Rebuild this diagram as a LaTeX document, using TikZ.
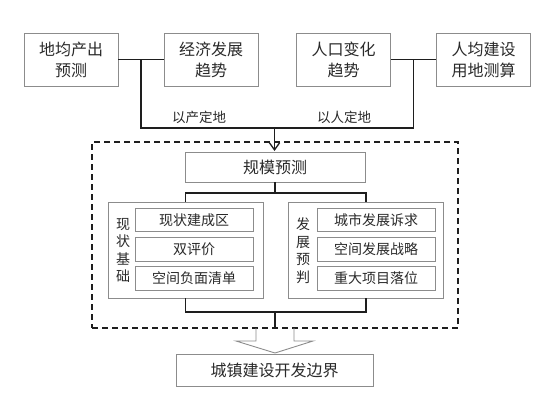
\documentclass[tikz,border=0pt]{standalone}
\usepackage{fontspec}
\newfontfamily\cjk{Noto Sans CJK SC}
\usetikzlibrary{arrows.meta,calc}
\definecolor{txt}{HTML}{2A2A2A}
\definecolor{bord}{HTML}{8C8C8C}
\definecolor{conn}{HTML}{1E1E1E}
\tikzset{
  box/.style={draw=bord, line width=0.9pt, fill=white, text=txt, inner sep=0pt, align=center},
  topbox/.style={box, minimum width=94pt, minimum height=53pt, font=\cjk\fontsize{16}{21}\selectfont},
  midbox/.style={box, minimum width=180pt, minimum height=30pt, font=\cjk\fontsize{16}{20}\selectfont},
  grpbox/.style={box, minimum width=155pt, minimum height=96pt},
  subbox/.style={box, minimum width=118pt, minimum height=23.5pt, font=\cjk\fontsize{14}{17}\selectfont},
  vtext/.style={text=txt, align=center, inner sep=0pt, font=\cjk\fontsize{14}{17.6}\selectfont},
  lbl/.style={text=txt, inner sep=0pt, font=\cjk\fontsize{13.5}{16}\selectfont},
  conline/.style={draw=conn, line width=1.5pt},
  dashbox/.style={draw=conn, line width=1.5pt, dash pattern=on 6pt off 4pt},
}
\begin{document}
\begin{tikzpicture}[x=1pt,y=-1pt]
\useasboundingbox (0,0) rectangle (556,412);
% dashed frame
\node[dashbox, minimum width=366pt, minimum height=186pt, inner sep=0pt] (frame) at (275,235) {};
% top boxes
\node[topbox] (b1) at (71,59.5) {地均产出\\预测};
\node[topbox] (b2) at (211,59.5) {经济发展\\趋势};
\node[topbox] (b3) at (343.5,59.5) {人口变化\\趋势};
\node[topbox] (b4) at (483.5,59.5) {人均建设\\用地测算};
\coordinate (ml) at ($(b1.east)!0.5!(b2.west)$);
\coordinate (mr) at ($(b3.east)!0.5!(b4.west)$);
\coordinate (hj) at (274.5,128);
\coordinate (at) at (274.5,151);
\draw[conline] (b1.east) -- (b2.west);
\draw[conline] (b3.east) -- (b4.west);
\draw[conline] (ml) -- (ml |- hj) -- (mr |- hj) -- (mr);
\draw[conline, -{Straight Barb[length=7pt,width=10pt,line width=1.3pt]}] (hj) -- (at);
\node[lbl] (l1) at (199,117) {以产定地};
\node[lbl] (l2) at (344,117) {以人定地};
% scale prediction
\node[midbox] (gm) at (275,167) {规模预测};
\node[grpbox] (gL) at (185.5,250) {};
\node[grpbox] (gR) at (366,250) {};
\coordinate (j2) at (275,193);
\draw[conline] (gm.south) -- (j2);
\draw[conline] (gL.north) -- (gL.north |- j2) -- (gR.north |- j2) -- (gR.north);
% left group
\node[vtext] (vL) at (123,250.5) {现\\状\\基\\础};
\node[subbox] (s1) at (194,220) {现状建成区};
\node[subbox] (s2) at (194,249.5) {双评价};
\node[subbox] (s3) at (194,278.5) {空间负面清单};
% right group
\node[vtext] (vR) at (303,250.5) {发\\展\\预\\判};
\node[subbox] (r1) at (376,220) {城市发展诉求};
\node[subbox] (r2) at (376,249.5) {空间发展战略};
\node[subbox] (r3) at (376,278.5) {重大项目落位};
% bottom connectors
\coordinate (j3) at (275,312);
\draw[conline] (gL.south) -- (gL.south |- j3) -- (gR.south |- j3) -- (gR.south);
\draw[conline] (j3) -- (frame.south);
% hollow arrow
\draw[draw=bord, line width=0.9pt] (256,328) -- (256,341) -- (236,341) -- (275,353) -- (313,341) -- (294,341) -- (294,328);
% final box
\node[box, minimum width=197pt, minimum height=32pt, font=\cjk\fontsize{16}{20}\selectfont] (fin) at (274.5,370) {城镇建设开发边界};
\end{tikzpicture}
\end{document}
